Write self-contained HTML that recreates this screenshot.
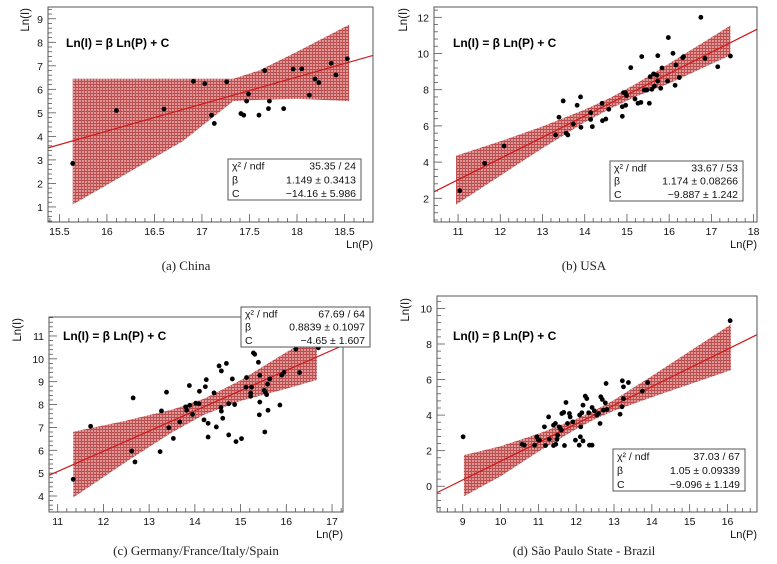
<!DOCTYPE html>
<html><head><meta charset="utf-8"><style>
html,body{margin:0;padding:0;background:#fff;}
svg{display:block;font-family:"Liberation Sans",Arial,sans-serif;}
.cap{font-family:"Liberation Serif","DejaVu Serif",serif;font-size:13px;fill:#222;}
</style></head><body>
<svg id="fig" width="777" height="564" viewBox="0 0 777 564" xmlns="http://www.w3.org/2000/svg">
<defs>
<pattern id="hatch" width="3" height="3" patternUnits="userSpaceOnUse">
<rect width="3" height="3" fill="#e09696"/>
<rect width="3" height="1" fill="#b84c4c"/>
<rect width="1" height="3" fill="#bc5454"/>
</pattern>
</defs>
<text class="cap" x="186" y="270" text-anchor="middle">(a) China</text>
<text class="cap" x="584" y="270" text-anchor="middle">(b) USA</text>
<text class="cap" x="196" y="555" text-anchor="middle">(c) Germany/France/Italy/Spain</text>
<text class="cap" x="584" y="555" text-anchor="middle">(d) São Paulo State - Brazil</text>
</svg>
<script>
// ---- Panel A: China ----
const aX=[15.64,16.1,16.6,16.91,17.03,17.1,17.13,17.26,17.41,17.44,17.47,17.49,17.6,17.66,17.7,17.71,17.86,17.96,18.05,18.13,18.19,18.23,18.36,18.41,18.53];
const aY=[2.85,5.1,5.16,6.34,6.24,4.9,4.55,6.32,4.97,4.9,5.5,5.8,4.9,6.8,5.18,5.5,5.18,6.86,6.87,5.75,6.44,6.29,7.11,6.61,7.3];
const aFit=[1.149,-14.16];
const aBandX=[15.64,16.2,16.8,17.33,17.6,18.0,18.55];
const aBandHi=[6.45,6.45,6.45,6.45,6.8,7.6,8.75];
const aBandLo=[1.1,2.4,3.8,5.5,5.55,5.6,5.5];
const aStats=["35.35 / 24","1.149 \u00b1 0.3413","\u221214.16 \u00b1 5.986"];
const aXTicks=[15.5,16,16.5,17,17.5,18,18.5];
const aYTicks=[1,2,3,4,5,6,7,8,9];
// ---- Panel B: USA ----
const bX=[11.04,11.63,12.09,13.31,13.39,13.49,13.56,13.6,13.73,13.82,13.9,13.91,14.14,14.14,14.18,14.41,14.42,14.5,14.57,14.89,14.89,14.92,14.96,14.97,14.99,15.09,15.19,15.26,15.33,15.35,15.41,15.47,15.53,15.55,15.59,15.63,15.65,15.71,15.73,15.73,15.8,15.83,15.96,15.98,16.09,16.14,16.16,16.24,16.32,16.34,16.75,16.85,17.15,17.45];
const bY=[2.42,3.93,4.89,5.5,6.48,7.38,5.6,5.5,6.1,7.14,7.6,5.92,6.73,6.36,5.96,7.25,6.29,6.38,6.92,6.53,7.06,7.84,7.84,7.14,7.67,9.22,7.49,7.25,7.3,9.83,7.98,7.98,7.25,8.72,8.02,8.87,8.2,8.8,9.88,8.48,8.08,9.2,8.48,10.88,10.01,8.24,9.37,8.67,9.77,9.83,12.0,9.73,9.27,9.86];
const bFit=[1.174,-9.887];
const bBandX=[10.95,12,13,14,14.6,15.2,16,17.45];
const bBandHi=[4.35,5.15,5.97,6.9,7.55,8.31,9.45,11.55];
const bBandLo=[1.65,3.25,4.77,6.2,6.95,7.61,8.35,9.9];
const bStats=["33.67 / 53","1.174 \u00b1 0.08266","\u22129.887 \u00b1 1.242"];
const bXTicks=[11,12,13,14,15,16,17,18];
const bYTicks=[2,4,6,8,10,12];
// ---- Panel C: Europe ----
const cX=[11.34,11.72,12.62,12.65,12.69,13.24,13.27,13.38,13.43,13.53,13.67,13.8,13.82,13.88,13.89,13.95,14.02,14.09,14.1,14.2,14.23,14.25,14.29,14.29,14.42,14.47,14.53,14.58,14.57,14.58,14.61,14.69,14.74,14.74,14.82,14.87,14.9,15.02,15.13,15.12,15.22,15.22,15.24,15.28,15.31,15.39,15.41,15.42,15.42,15.52,15.53,15.54,15.57,15.59,15.6,15.64,15.86,15.9,15.95,16.21,16.29,16.7];
const cY=[4.73,7.05,5.97,8.29,5.49,5.94,7.72,8.54,6.99,6.52,7.24,7.9,7.75,8.83,7.97,7.57,8.06,8.04,8.58,7.33,8.78,9.09,7.18,6.58,8.51,7.02,9.69,9.47,7.87,7.71,7.4,9.8,8.04,6.67,9.12,8.0,6.38,6.51,9.18,8.76,8.36,8.5,8.76,10.26,10.2,9.85,7.55,8.11,9.28,8.62,6.8,8.55,8.43,8.89,7.75,9.12,7.98,9.29,9.41,10.42,9.4,10.48];
const cFit=[0.8839,-4.65];
const cBandX=[11.34,12.5,13.5,14.2,15,16,16.67];
const cBandHi=[6.81,7.3,7.78,8.25,9.06,10.29,11.08];
const cBandLo=[3.93,5.5,6.78,7.55,8.16,8.69,9.08];
const cStats=["67.69 / 64","0.8839 \u00b1 0.1097","\u22124.65 \u00b1 1.607"];
const cXTicks=[11,12,13,14,15,16,17];
const cYTicks=[4,5,6,7,8,9,10,11];
// ---- Panel D: Sao Paulo ----
const dX=[9.01,10.57,10.63,10.9,10.96,10.99,11.03,11.16,11.19,11.27,11.29,11.4,11.4,11.45,11.46,11.49,11.51,11.55,11.58,11.61,11.62,11.67,11.69,11.73,11.77,11.82,11.84,11.91,11.98,12.08,12.09,12.11,12.12,12.15,12.18,12.18,12.24,12.28,12.33,12.35,12.42,12.42,12.48,12.55,12.59,12.63,12.65,12.69,12.72,12.77,12.79,12.81,13.16,13.21,13.22,13.25,13.25,13.38,13.75,13.89,16.07];
const dY=[2.78,2.36,2.31,2.31,2.78,2.63,2.59,3.34,2.29,3.9,2.65,3.43,2.29,3.53,2.36,2.63,2.87,3.34,3.25,3.15,4.09,4.15,2.29,4.71,3.53,4.09,3.9,3.62,2.59,2.31,4.0,2.78,3.34,4.13,4.56,2.55,5.07,4.93,4.13,2.31,2.31,4.43,4.24,4.0,4.09,3.53,5.03,4.88,4.28,4.69,5.78,4.32,4.05,4.47,5.93,5.59,4.93,5.83,5.35,5.83,9.31];
const dFit=[1.05,-9.096];
const dBandX=[9.03,10,11,12,12.5,13,14,16.09];
const dBandHi=[1.75,2.25,2.95,3.78,4.28,4.85,6.2,9.1];
const dBandLo=[-0.56,0.55,1.95,3.22,3.78,4.25,5.0,6.53];
const dStats=["37.03 / 67","1.05 \u00b1 0.09339","\u22129.096 \u00b1 1.149"];
const dXTicks=[9,10,11,12,13,14,15,16];
const dYTicks=[0,2,4,6,8,10];

const NS="http://www.w3.org/2000/svg";
const svg=document.getElementById('fig');
function mk(tag,attrs,parent){const e=document.createElementNS(NS,tag);for(const k in attrs)e.setAttribute(k,attrs[k]);(parent||svg).appendChild(e);return e;}

function panel(id,box,xr,yr,xs,ys,xt,yt,xMinor,yMinor,bx,bhi,blo,fit,stats,sbox,formula,ylab){
  const g=mk('g',{});
  
  
  const X=v=>box.l+(v-xr[0])/(xr[1]-xr[0])*(box.r-box.l);
  const Y=v=>box.b-(v-yr[0])/(yr[1]-yr[0])*(box.b-box.t);
  const cp=mk('clipPath',{id:'clip'+id},g);
  mk('rect',{x:box.l,y:box.t,width:box.r-box.l,height:box.b-box.t},cp);
  let pts=[];
  for(let i=0;i<bx.length;i++)pts.push(X(bx[i]).toFixed(1)+','+Y(bhi[i]).toFixed(1));
  for(let i=bx.length-1;i>=0;i--)pts.push(X(bx[i]).toFixed(1)+','+Y(blo[i]).toFixed(1));
  const band=mk('polygon',{points:pts.join(' '),fill:'url(#hatch)','clip-path':'url(#clip'+id+')'},g);
  
  
  const ln=mk('line',{x1:X(xr[0]),y1:Y(fit[0]*xr[0]+fit[1]),x2:X(xr[1]),y2:Y(fit[0]*xr[1]+fit[1]),stroke:'#d01818','stroke-width':1.2,'clip-path':'url(#clip'+id+')'},g);
  
  
  for(let i=0;i<xs.length;i++){
    const c=mk('circle',{cx:X(xs[i]),cy:Y(ys[i]),r:2.4,fill:'#000'},g);
    
    
  }
  const fr=mk('rect',{x:box.l,y:box.t,width:box.r-box.l,height:box.b-box.t,fill:'none',stroke:'#555','stroke-width':1},g);
  
  
  const xa=mk('g',{},g);
  
  
  for(let v=Math.ceil(xr[0]/xMinor)*xMinor;v<=xr[1]+1e-9;v+=xMinor){
    const major=xt.some(t=>Math.abs(t-v)<1e-6);
    mk('line',{x1:X(v),x2:X(v),y1:box.b,y2:box.b-(major?8:4),stroke:'#555','stroke-width':0.8},xa);
  }
  for(const t of xt){
    const tx=mk('text',{x:X(t),y:box.b+13,'font-size':'10.5','text-anchor':'middle',fill:'#111'},xa);
    tx.textContent=String(t);
    
    
  }
  const xl=mk('text',{x:box.r,y:box.b+26,'font-size':'11','text-anchor':'end',fill:'#111'},g);
  xl.textContent='Ln(P)';
  
  
  const ya=mk('g',{},g);
  
  
  for(let v=Math.ceil(yr[0]/yMinor)*yMinor;v<=yr[1]+1e-9;v+=yMinor){
    const major=yt.some(t=>Math.abs(t-v)<1e-6);
    mk('line',{x1:box.l,x2:box.l+(major?8:4),y1:Y(v),y2:Y(v),stroke:'#555','stroke-width':0.8},ya);
  }
  for(const t of yt){
    const tx=mk('text',{x:box.l-5,y:Y(t)+4,'font-size':'10.5','text-anchor':'end',fill:'#111'},ya);
    tx.textContent=String(t);
    
    
  }
  const yl=mk('text',{x:0,y:0,'font-size':'11.5','text-anchor':'end',fill:'#111',transform:'translate('+ylab[0]+','+ylab[1]+') rotate(-90)'},g);
  yl.textContent='Ln(I)';
  
  
  const f=mk('text',{x:formula[0],y:formula[1],'font-size':'12','font-weight':'bold',fill:'#000'},g);
  f.textContent='Ln(I) = \u03b2 Ln(P) + C';
  
  
  const sg=mk('g',{},g);
  
  
  mk('rect',{x:sbox[0],y:sbox[1],width:sbox[2],height:sbox[3],fill:'#fff',stroke:'#555','stroke-width':1},sg);
  const labels=['\u03c7\u00b2 / ndf','\u03b2','C'];
  const rh=sbox[3]/3;
  for(let i=0;i<3;i++){
    const a=mk('text',{x:sbox[0]+4,y:sbox[1]+rh*i+rh-3,'font-size':'10.5',fill:'#111'},sg);
    a.textContent=labels[i];
    const b=mk('text',{x:sbox[0]+sbox[2]-5,y:sbox[1]+rh*i+rh-3,'font-size':'10.5','text-anchor':'end',fill:'#111'},sg);
    b.textContent=stats[i];
  }
}
panel('a',{l:48,r:373,t:7,b:222},[15.38,18.8],[0.36,9.5],aX,aY,aXTicks,aYTicks,0.1,0.2,aBandX,aBandHi,aBandLo,aFit,aStats,[228,159,133,41],[66,47],[29,8]);
panel('b',{l:434,r:757,t:7,b:222},[10.43,18.08],[0.69,12.57],bX,bY,bXTicks,bYTicks,0.2,0.4,bBandX,bBandHi,bBandLo,bFit,bStats,[610,161,133,40],[453,47],[407,8]);
panel('c',{l:49,r:343,t:317,b:512},[10.81,17.24],[3.3,11.83],cX,cY,cXTicks,cYTicks,0.2,0.2,cBandX,cBandHi,cBandLo,cFit,cStats,[241,307,129,40],[63,340],[21,318]);
panel('d',{l:437,r:757,t:296,b:512},[8.32,16.78],[-1.45,10.7],dX,dY,dXTicks,dYTicks,0.2,0.4,dBandX,dBandHi,dBandLo,dFit,dStats,[613,449,132,42],[453,340],[409,298]);
</script>
</body></html>
